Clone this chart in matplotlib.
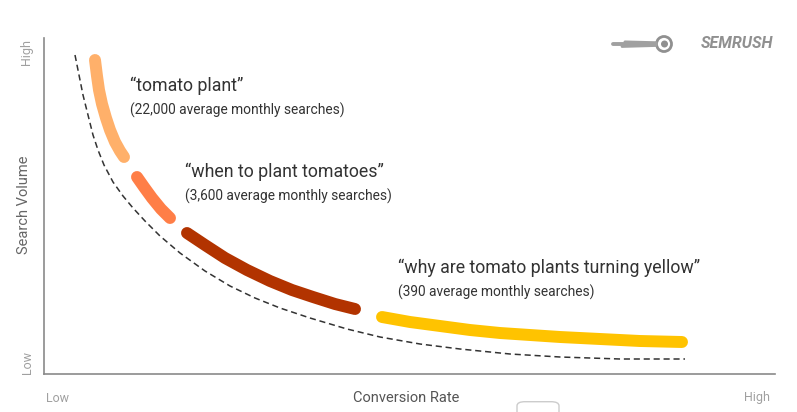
import matplotlib.pyplot as plt
from matplotlib.patches import FancyBboxPatch, Circle

plt.rcParams['font.family'] = ['Roboto', 'DejaVu Sans']

# conceptual units (no numeric scale on the chart)
trend_x = [31, 35, 39, 44, 49, 54, 60, 69, 79, 89, 101, 116, 136, 161, 186, 211,
           236, 266, 303, 336, 376, 416, 466, 516, 576, 641]
trend_y = [319, 299, 279, 259, 239, 224, 209, 192, 178, 166, 153, 138, 121, 103, 88, 76,
           66, 56, 45, 37, 30, 25, 20, 17, 15, 15]

seg_x = [
    [51, 53, 55, 58, 62, 66, 71, 76, 80],
    [93, 100, 108, 117, 126],
    [143, 161, 181, 203, 226, 248, 269, 291, 311],
    [338, 366, 396, 426, 456, 486, 516, 556, 596, 638],
]
seg_y = [
    [314, 298, 284, 270, 256, 244, 232, 223, 217],
    [197, 187, 176, 165, 156],
    [141, 129, 116, 104, 93, 84, 77, 70, 65],
    [57, 52, 48, 44, 41, 39, 37, 35, 33, 32],
]
seg_colors = ['#FFB06A', '#FF7E47', '#B23300', '#FFC300']

keywords = ['\u201ctomato plant\u201d', '\u201cwhen to plant tomatoes\u201d',
            '\u201cwhy are tomato plants turning yellow\u201d']
searches = ['(22,000 average monthly searches)', '(3,600 average monthly searches)',
            '(390 average monthly searches)']
label_x = [86, 141, 354]
label_y = [288, 202, 106]

fig = plt.figure(figsize=(7.97, 4.12), dpi=100)
ax = fig.add_axes([44 / 797, 38 / 412, 731 / 797, 336 / 412])
ax.set_xlim(0, 731)
ax.set_ylim(0, 336)

ax.plot(trend_x, trend_y, color='#333333', lw=1.1, ls=(0, (4, 2.5)))
for xs, ys, c in zip(seg_x, seg_y, seg_colors):
    ax.plot(xs, ys, color=c, lw=8.6, solid_capstyle='round', solid_joinstyle='round')

for k, s, x, y in zip(keywords, searches, label_x, label_y):
    ax.text(x, y, k, fontsize=12.8, color='#333333', va='center', ha='left')
    ax.text(x, y - 24.5, s, fontsize=9.9, color='#333333', va='center', ha='left')

for side in ['top', 'right']:
    ax.spines[side].set_visible(False)
for side in ['left', 'bottom']:
    ax.spines[side].set_color('#8a8a8a')
    ax.spines[side].set_linewidth(1.2)
ax.set_xticks([])
ax.set_yticks([])

# axis end labels
fig.text(27 / 797, 1 - 52 / 412, 'High', rotation=90, color='#a0a0a0', fontsize=9, ha='center', va='center')
fig.text(27 / 797, 1 - 362 / 412, 'Low', rotation=90, color='#a0a0a0', fontsize=9, ha='center', va='center')
fig.text(24 / 797, 1 - 205 / 412, 'Search Volume', rotation=90, color='#666666', fontsize=10.5, ha='center', va='center')
fig.text(57 / 797, 1 - 398 / 412, 'Low', color='#a0a0a0', fontsize=9, ha='center', va='center')
fig.text(757 / 797, 1 - 398 / 412, 'High', color='#a0a0a0', fontsize=9, ha='center', va='center')
fig.text(406 / 797, 1 - 398 / 412, 'Conversion Rate', color='#555555', fontsize=10.5, ha='center', va='center')

# logo
inch = fig.dpi_scale_trans
fig.text(773 / 797, 1 - 44 / 412, 'SEMRUSH', color='#909090', fontsize=11.5, fontweight='bold',
         style='italic', ha='right', va='center')
fig.patches.append(Circle((6.64, 3.68), 0.075, transform=inch, facecolor='none',
                          edgecolor='#909090', lw=2))
fig.patches.append(Circle((6.645, 3.68), 0.035, transform=inch, facecolor='#909090',
                          edgecolor='none'))
for y0, x0, w in [(3.70, 6.25, 2.2), (3.68, 6.13, 2.8), (3.655, 6.22, 2.0)]:
    fig.lines.append(plt.Line2D([x0, 6.56], [y0, y0 + (3.68 - y0) * 0.4], transform=inch,
                                color='#a0a0a0', lw=w, solid_capstyle='round'))

# small box artifact at bottom
fig.patches.append(FancyBboxPatch((517 / 797, -0.02), 42 / 797, 0.045,
                                  boxstyle='round,pad=0,rounding_size=0.01',
                                  transform=fig.transFigure, facecolor='white',
                                  edgecolor='#cccccc', lw=1))

fig.savefig('out.png', dpi=100, facecolor='white')
